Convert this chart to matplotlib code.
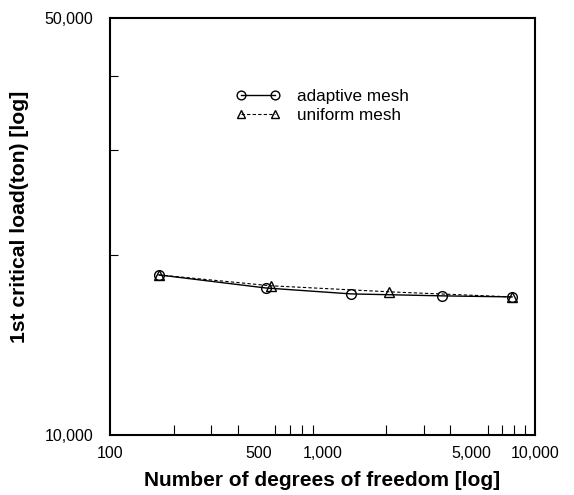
import matplotlib
matplotlib.use("Agg")
import matplotlib.pyplot as plt
from matplotlib.ticker import FixedLocator, NullFormatter, FixedFormatter

plt.rcParams['font.family'] = ['Liberation Sans', 'DejaVu Sans']

# Data
adaptive_dof = [170, 540, 1360, 3650, 7800]
adaptive_load = [18550, 17640, 17240, 17110, 17040]
uniform_dof = [170, 570, 2050, 7800]
uniform_load = [18550, 17790, 17380, 17040]

x_tick_vals = [100, 500, 1000, 5000, 10000]
x_tick_labels = ["100", "500", "1,000", "5,000", "10,000"]
x_minor_vals = [200, 300, 400, 600, 700, 800, 900, 2000, 3000, 4000, 6000, 7000, 8000, 9000]
y_tick_vals = [10000, 50000]
y_tick_labels = ["10,000", "50,000"]
y_minor_vals = [20000, 30000, 40000]

fig = plt.figure(figsize=(5.74, 4.95), dpi=100)
ax = fig.add_axes([0.1916, 0.1212, 0.932 - 0.1916, 0.9636 - 0.1212])
ax.set_xscale('log')
ax.set_yscale('log')
ax.set_xlim(100, 10000)
ax.set_ylim(10000, 50000)

ax.plot(adaptive_dof, adaptive_load, '-', color='black', lw=1.0,
        marker='o', markersize=7, markerfacecolor='none', markeredgecolor='black',
        markeredgewidth=1.0, label='adaptive mesh')
ax.plot(uniform_dof, uniform_load, linestyle=(0, (3, 2)), color='black', lw=0.8,
        marker='^', markersize=7, markerfacecolor='none', markeredgecolor='black',
        markeredgewidth=1.0, label='uniform mesh')

ax.xaxis.set_major_locator(FixedLocator(x_tick_vals))
ax.xaxis.set_major_formatter(FixedFormatter(x_tick_labels))
ax.xaxis.set_minor_locator(FixedLocator(x_minor_vals))
ax.xaxis.set_minor_formatter(NullFormatter())
ax.yaxis.set_major_locator(FixedLocator(y_tick_vals))
ax.yaxis.set_major_formatter(FixedFormatter(y_tick_labels))
ax.yaxis.set_minor_locator(FixedLocator(y_minor_vals))
ax.yaxis.set_minor_formatter(NullFormatter())

ax.tick_params(axis='both', which='both', direction='in', top=False, right=False,
               labelsize=11.5, width=0.8, colors='black')
ax.tick_params(axis='x', which='major', length=0, pad=8)
ax.tick_params(axis='x', which='minor', length=7)
ax.tick_params(axis='y', which='major', length=0, pad=12)
ax.tick_params(axis='y', which='minor', length=6)

for s in ax.spines.values():
    s.set_linewidth(1.5)
    s.set_color('black')

ax.set_xlabel('Number of degrees of freedom [log]', fontsize=15, fontweight='bold', labelpad=7)
ax.set_ylabel('1st critical load(ton) [log]', fontsize=15.2, fontweight='bold')
ax.yaxis.set_label_coords(-0.19, 0.523)

leg = ax.legend(loc='upper left', bbox_to_anchor=(0.296, 0.83), frameon=False,
                numpoints=2, fontsize=12.3, handlelength=2.6, handletextpad=1.0,
                labelspacing=0.25, borderaxespad=0, borderpad=0, markerscale=0.9)

fig.savefig('out.png', dpi=100)
